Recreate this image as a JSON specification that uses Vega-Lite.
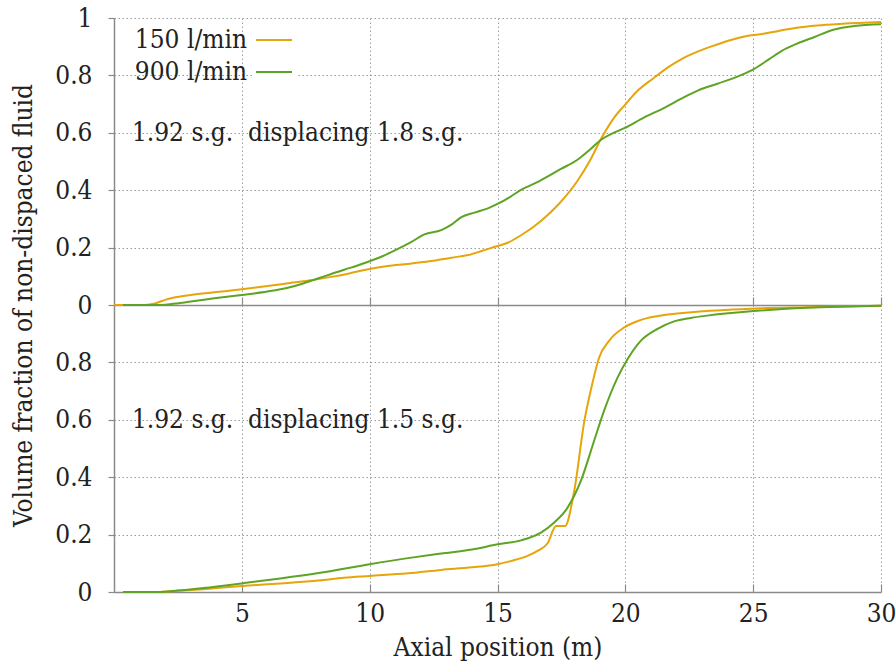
{
  "$schema": "https://vega.github.io/schema/vega-lite/v6.json",
  "padding": {"left": 10, "top": 5, "right": 14, "bottom": 5},
  "spacing": 0,
  "bounds": "flush",
  "config": {
    "font": "DejaVu Serif Condensed, DejaVu Serif",
    "view": {"stroke": null},
    "axis": {
      "labelFont": "DejaVu Serif Condensed, DejaVu Serif", "titleFont": "DejaVu Serif Condensed, DejaVu Serif",
      "labelFontSize": 26, "titleFontSize": 26, "titleFontWeight": "normal",
      "labelColor": "#222222", "titleColor": "#222222", "labelFlush": false,
      "domainColor": "#8a8a8a", "domainWidth": 1.5,
      "tickColor": "#8a8a8a", "tickWidth": 1.2,
      "gridColor": "#9a9a9a", "gridDash": [1.5, 2.5], "gridWidth": 1, "gridOpacity": 1
    }
  },
  "datasets": {
    "top": [
      {"rate": "150 l/min", "x": 0, "y": 0}, {"rate": "150 l/min", "x": 1.2, "y": 0}, {"rate": "150 l/min", "x": 1.6, "y": 0.005},
      {"rate": "150 l/min", "x": 2.0, "y": 0.018}, {"rate": "150 l/min", "x": 2.4, "y": 0.027}, {"rate": "150 l/min", "x": 3.0, "y": 0.035},
      {"rate": "150 l/min", "x": 4.0, "y": 0.045}, {"rate": "150 l/min", "x": 5.0, "y": 0.055}, {"rate": "150 l/min", "x": 6.0, "y": 0.066},
      {"rate": "150 l/min", "x": 7.0, "y": 0.078}, {"rate": "150 l/min", "x": 7.7, "y": 0.086}, {"rate": "150 l/min", "x": 8.5, "y": 0.098},
      {"rate": "150 l/min", "x": 9.2, "y": 0.11}, {"rate": "150 l/min", "x": 9.9, "y": 0.124}, {"rate": "150 l/min", "x": 10.7, "y": 0.136},
      {"rate": "150 l/min", "x": 11.5, "y": 0.143}, {"rate": "150 l/min", "x": 12.4, "y": 0.153}, {"rate": "150 l/min", "x": 13.2, "y": 0.165},
      {"rate": "150 l/min", "x": 13.8, "y": 0.173}, {"rate": "150 l/min", "x": 14.35, "y": 0.187}, {"rate": "150 l/min", "x": 14.9, "y": 0.203},
      {"rate": "150 l/min", "x": 15.4, "y": 0.217}, {"rate": "150 l/min", "x": 15.92, "y": 0.243}, {"rate": "150 l/min", "x": 16.7, "y": 0.293},
      {"rate": "150 l/min", "x": 17.4, "y": 0.352}, {"rate": "150 l/min", "x": 18.13, "y": 0.433}, {"rate": "150 l/min", "x": 18.65, "y": 0.509},
      {"rate": "150 l/min", "x": 19.05, "y": 0.579}, {"rate": "150 l/min", "x": 19.57, "y": 0.654}, {"rate": "150 l/min", "x": 19.96, "y": 0.695},
      {"rate": "150 l/min", "x": 20.5, "y": 0.748}, {"rate": "150 l/min", "x": 21.1, "y": 0.79}, {"rate": "150 l/min", "x": 21.65, "y": 0.827},
      {"rate": "150 l/min", "x": 22.2, "y": 0.857}, {"rate": "150 l/min", "x": 22.8, "y": 0.882}, {"rate": "150 l/min", "x": 23.5, "y": 0.905},
      {"rate": "150 l/min", "x": 24.2, "y": 0.925}, {"rate": "150 l/min", "x": 24.8, "y": 0.938}, {"rate": "150 l/min", "x": 25.4, "y": 0.945},
      {"rate": "150 l/min", "x": 26.0, "y": 0.955}, {"rate": "150 l/min", "x": 26.7, "y": 0.966}, {"rate": "150 l/min", "x": 27.5, "y": 0.974},
      {"rate": "150 l/min", "x": 28.5, "y": 0.98}, {"rate": "150 l/min", "x": 30, "y": 0.986},
      {"rate": "900 l/min", "x": 0.35, "y": 0}, {"rate": "900 l/min", "x": 1.8, "y": 0}, {"rate": "900 l/min", "x": 2.4, "y": 0.005},
      {"rate": "900 l/min", "x": 3.0, "y": 0.012}, {"rate": "900 l/min", "x": 4.0, "y": 0.024}, {"rate": "900 l/min", "x": 5.0, "y": 0.035},
      {"rate": "900 l/min", "x": 6.0, "y": 0.047}, {"rate": "900 l/min", "x": 6.8, "y": 0.06}, {"rate": "900 l/min", "x": 7.4, "y": 0.075},
      {"rate": "900 l/min", "x": 8.0, "y": 0.093}, {"rate": "900 l/min", "x": 8.5, "y": 0.108}, {"rate": "900 l/min", "x": 9.0, "y": 0.123},
      {"rate": "900 l/min", "x": 9.5, "y": 0.137}, {"rate": "900 l/min", "x": 9.92, "y": 0.15}, {"rate": "900 l/min", "x": 10.5, "y": 0.17},
      {"rate": "900 l/min", "x": 11.2, "y": 0.2}, {"rate": "900 l/min", "x": 11.6, "y": 0.218}, {"rate": "900 l/min", "x": 12.14, "y": 0.246},
      {"rate": "900 l/min", "x": 12.8, "y": 0.261}, {"rate": "900 l/min", "x": 13.2, "y": 0.28}, {"rate": "900 l/min", "x": 13.57, "y": 0.305},
      {"rate": "900 l/min", "x": 14.1, "y": 0.322}, {"rate": "900 l/min", "x": 14.6, "y": 0.336}, {"rate": "900 l/min", "x": 15.0, "y": 0.352},
      {"rate": "900 l/min", "x": 15.5, "y": 0.377}, {"rate": "900 l/min", "x": 15.9, "y": 0.4}, {"rate": "900 l/min", "x": 16.6, "y": 0.43},
      {"rate": "900 l/min", "x": 17.48, "y": 0.474}, {"rate": "900 l/min", "x": 18.13, "y": 0.506}, {"rate": "900 l/min", "x": 18.6, "y": 0.54},
      {"rate": "900 l/min", "x": 19.05, "y": 0.576}, {"rate": "900 l/min", "x": 19.5, "y": 0.598}, {"rate": "900 l/min", "x": 19.96, "y": 0.616},
      {"rate": "900 l/min", "x": 20.74, "y": 0.654}, {"rate": "900 l/min", "x": 21.5, "y": 0.686}, {"rate": "900 l/min", "x": 22.17, "y": 0.718},
      {"rate": "900 l/min", "x": 22.83, "y": 0.747}, {"rate": "900 l/min", "x": 23.6, "y": 0.771}, {"rate": "900 l/min", "x": 24.5, "y": 0.8},
      {"rate": "900 l/min", "x": 25.04, "y": 0.823}, {"rate": "900 l/min", "x": 25.6, "y": 0.855}, {"rate": "900 l/min", "x": 26.09, "y": 0.884},
      {"rate": "900 l/min", "x": 26.7, "y": 0.91}, {"rate": "900 l/min", "x": 27.4, "y": 0.934}, {"rate": "900 l/min", "x": 28.17, "y": 0.96},
      {"rate": "900 l/min", "x": 28.95, "y": 0.972}, {"rate": "900 l/min", "x": 30, "y": 0.978}
    ],
    "bottom": [
      {"rate": "150 l/min", "x": 0.35, "y": 0}, {"rate": "150 l/min", "x": 1.7, "y": 0}, {"rate": "150 l/min", "x": 2.5, "y": 0.004},
      {"rate": "150 l/min", "x": 3.5, "y": 0.01}, {"rate": "150 l/min", "x": 5.0, "y": 0.021}, {"rate": "150 l/min", "x": 6.5, "y": 0.03},
      {"rate": "150 l/min", "x": 8.0, "y": 0.04}, {"rate": "150 l/min", "x": 9.0, "y": 0.05}, {"rate": "150 l/min", "x": 10.0, "y": 0.056},
      {"rate": "150 l/min", "x": 11.5, "y": 0.065}, {"rate": "150 l/min", "x": 12.8, "y": 0.077}, {"rate": "150 l/min", "x": 14.0, "y": 0.086},
      {"rate": "150 l/min", "x": 15.0, "y": 0.097}, {"rate": "150 l/min", "x": 15.6, "y": 0.11}, {"rate": "150 l/min", "x": 16.2, "y": 0.127},
      {"rate": "150 l/min", "x": 16.6, "y": 0.145}, {"rate": "150 l/min", "x": 16.96, "y": 0.17}, {"rate": "150 l/min", "x": 17.29, "y": 0.23},
      {"rate": "150 l/min", "x": 17.64, "y": 0.23}, {"rate": "150 l/min", "x": 18.0, "y": 0.352}, {"rate": "150 l/min", "x": 18.4, "y": 0.597},
      {"rate": "150 l/min", "x": 18.66, "y": 0.707}, {"rate": "150 l/min", "x": 18.98, "y": 0.818}, {"rate": "150 l/min", "x": 19.37, "y": 0.876},
      {"rate": "150 l/min", "x": 19.96, "y": 0.922}, {"rate": "150 l/min", "x": 20.61, "y": 0.948}, {"rate": "150 l/min", "x": 21.65, "y": 0.967},
      {"rate": "150 l/min", "x": 22.57, "y": 0.975}, {"rate": "150 l/min", "x": 24.9, "y": 0.987}, {"rate": "150 l/min", "x": 27.1, "y": 0.992},
      {"rate": "150 l/min", "x": 30, "y": 0.997},
      {"rate": "900 l/min", "x": 0.35, "y": 0}, {"rate": "900 l/min", "x": 1.7, "y": 0}, {"rate": "900 l/min", "x": 2.5, "y": 0.005},
      {"rate": "900 l/min", "x": 3.5, "y": 0.014}, {"rate": "900 l/min", "x": 5.0, "y": 0.03}, {"rate": "900 l/min", "x": 6.5, "y": 0.047},
      {"rate": "900 l/min", "x": 8.0, "y": 0.066}, {"rate": "900 l/min", "x": 10.0, "y": 0.097}, {"rate": "900 l/min", "x": 11.5, "y": 0.118},
      {"rate": "900 l/min", "x": 12.8, "y": 0.134}, {"rate": "900 l/min", "x": 14.0, "y": 0.148}, {"rate": "900 l/min", "x": 15.0, "y": 0.166},
      {"rate": "900 l/min", "x": 15.92, "y": 0.18}, {"rate": "900 l/min", "x": 16.7, "y": 0.207}, {"rate": "900 l/min", "x": 17.22, "y": 0.242},
      {"rate": "900 l/min", "x": 17.74, "y": 0.294}, {"rate": "900 l/min", "x": 18.26, "y": 0.387}, {"rate": "900 l/min", "x": 18.78, "y": 0.527},
      {"rate": "900 l/min", "x": 19.17, "y": 0.632}, {"rate": "900 l/min", "x": 19.7, "y": 0.748}, {"rate": "900 l/min", "x": 20.09, "y": 0.812},
      {"rate": "900 l/min", "x": 20.61, "y": 0.876}, {"rate": "900 l/min", "x": 21.26, "y": 0.917}, {"rate": "900 l/min", "x": 21.91, "y": 0.943},
      {"rate": "900 l/min", "x": 22.57, "y": 0.955}, {"rate": "900 l/min", "x": 23.2, "y": 0.963}, {"rate": "900 l/min", "x": 24.9, "y": 0.978},
      {"rate": "900 l/min", "x": 27.1, "y": 0.99}, {"rate": "900 l/min", "x": 30, "y": 0.997}
    ],
    "noteTop": [{"label": "1.92 s.g.\u00a0 displacing 1.8 s.g."}],
    "noteBottom": [{"label": "1.92 s.g.\u00a0 displacing 1.5 s.g."}]
  },
  "vconcat": [
    {
      "width": 767,
      "height": 287,
      "layer": [
        {
          "data": {"name": "top"},
          "mark": {"type": "line", "interpolate": "monotone", "strokeWidth": 2},
          "encoding": {
            "x": {"field": "x", "type": "quantitative",
              "scale": {"domain": [0, 30], "nice": false, "zero": false},
              "axis": {"values": [5, 10, 15, 20, 25, 30], "labels": false, "title": null, "tickSize": -8}},
            "y": {"field": "y", "type": "quantitative",
              "scale": {"domain": [0, 1], "nice": false},
              "axis": {"values": [0, 0.2, 0.4, 0.6, 0.8, 1], "format": "~g", "tickSize": 6, "labelPadding": 16,
                "title": "Volume fraction of non-dispaced fluid", "titleX": -91, "titleY": 287,
                "titleAngle": 270, "titleBaseline": "middle", "titleAlign": "center"}},
            "color": {"field": "rate", "type": "nominal",
              "scale": {"domain": ["150 l/min", "900 l/min"], "range": ["#E6A50A", "#5EA424"]},
              "legend": {"orient": "none", "legendX": 139, "legendY": 1, "title": null,
                "symbolType": "stroke", "symbolSize": 1296, "symbolStrokeWidth": 2,
                "labelFont": "DejaVu Serif Condensed, DejaVu Serif", "labelFontSize": 26, "labelColor": "#222222",
                "labelAlign": "right", "labelOffset": -46, "labelLimit": 400,
                "fillColor": "white", "padding": 2, "rowPadding": -9}}
          }
        },
        {
          "data": {"name": "noteTop"},
          "mark": {"type": "text", "align": "left", "baseline": "middle", "fontSize": 26, "font": "DejaVu Serif Condensed, DejaVu Serif", "color": "#222222"},
          "encoding": {
            "x": {"datum": 0.7, "type": "quantitative"},
            "y": {"datum": 0.6, "type": "quantitative"},
            "text": {"field": "label"}
          }
        }
      ]
    },
    {
      "width": 767,
      "height": 287,
      "layer": [
        {
          "data": {"name": "bottom"},
          "mark": {"type": "line", "interpolate": "monotone", "strokeWidth": 2},
          "encoding": {
            "x": {"field": "x", "type": "quantitative",
              "scale": {"domain": [0, 30], "nice": false, "zero": false},
              "axis": {"values": [5, 10, 15, 20, 25, 30], "tickSize": -8, "labelPadding": 16,
                "title": "Axial position (m)", "titlePadding": 8}},
            "y": {"field": "y", "type": "quantitative",
              "scale": {"domain": [0, 1], "nice": false},
              "axis": {"values": [0, 0.2, 0.4, 0.6, 0.8], "format": "~g", "tickSize": 6, "labelPadding": 16, "title": null}},
            "color": {"field": "rate", "type": "nominal",
              "scale": {"domain": ["150 l/min", "900 l/min"], "range": ["#E6A50A", "#5EA424"]},
              "legend": null}
          }
        },
        {
          "data": {"name": "noteBottom"},
          "mark": {"type": "text", "align": "left", "baseline": "middle", "fontSize": 26, "font": "DejaVu Serif Condensed, DejaVu Serif", "color": "#222222"},
          "encoding": {
            "x": {"datum": 0.7, "type": "quantitative"},
            "y": {"datum": 0.6, "type": "quantitative"},
            "text": {"field": "label"}
          }
        }
      ]
    }
  ]
}
